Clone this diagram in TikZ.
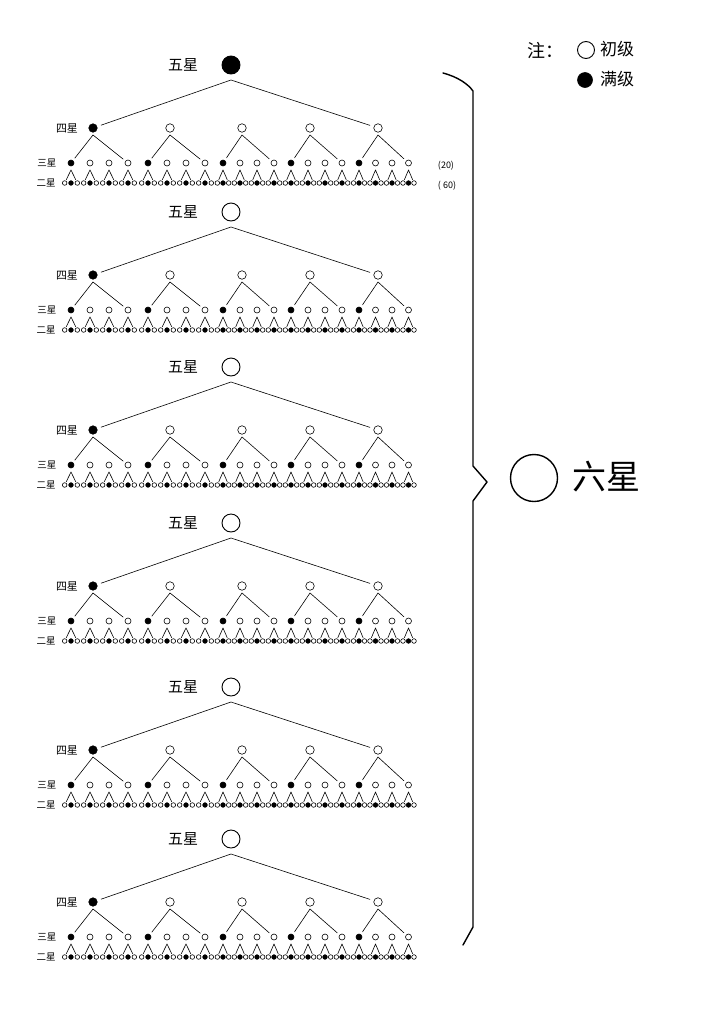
\documentclass[tikz,border=0pt]{standalone}
\usepackage{fontspec}
\newfontfamily\cjk{Noto Sans CJK SC}
\tikzset{
  star/.style={circle,draw,line width=0.6pt,inner sep=0pt},
  full/.style={fill=black},
  open/.style={fill=white},
  roof/.style={line width=0.6pt,line cap=round,line join=round},
  lvl/.style={font=\cjk\fontsize{#1}{#1}\selectfont,inner sep=0pt}
}
% one tree: #1 block id, #2 y of the five-star node, #3 its fill
\newcommand\starblock[3]{%
  \node[lvl=15] (wl#1) at (183,#2) {五星};
  \node[star,#3,minimum size=18pt,line width=0.9pt] (w#1) at (231,#2) {};
  \coordinate (wa#1) at (231,#2+15);
  \node[lvl=11] (sl#1) at (67,#2+63) {四星};
  \node[lvl=9.5] (tl#1) at (47,#2+98) {三星};
  \node[lvl=9.5] (el#1) at (46,#2+118) {二星};
  \foreach \g/\sx/\gx/\gd/\sf in {1/93/71/19/full,2/170/148/19/open,3/242/223/17/open,4/310/291/17/open,5/378/359/16.5/open}{
    \node[star,\sf,minimum size=8.5pt] (s#1-\g) at (\sx,#2+63) {};
    \coordinate (sa#1-\g) at (\sx,#2+70);
    \foreach \j/\tf in {0/full,1/open,2/open,3/open}{
      \node[star,\tf,minimum size=6pt] (t#1-\g-\j) at (\gx+\j*\gd,#2+98) {};
      \coordinate (ta#1-\g-\j) at (\gx+\j*\gd,#2+105);
      \foreach \k/\ef in {0/open,1/full,2/open}{
        \node[star,\ef,minimum size=4.6pt] (e#1-\g-\j-\k) at (\gx+\j*\gd+\k*\gd/3-\gd/3,#2+118) {};
      }
      \draw[roof,shorten <=1pt,shorten >=1pt] (e#1-\g-\j-0) -- (ta#1-\g-\j) -- (e#1-\g-\j-2);
    }
    \draw[roof,shorten <=3pt,shorten >=3pt] (t#1-\g-0) -- (sa#1-\g) -- (t#1-\g-3);
  }
  \draw[roof,shorten <=4pt,shorten >=4pt] (s#1-1) -- (wa#1) -- (s#1-5);
}
\begin{document}
\begin{tikzpicture}[x=1pt,y=-1pt]
  \useasboundingbox[fill=white] (0,0) rectangle (720,1018);
  % legend
  \node[lvl=18] (note) at (545,51) {注：};
  \node[star,open,minimum size=17pt,line width=0.9pt] (kopen) at (586,50) {};
  \node[lvl=17] (kopent) at (617,49) {初级};
  \node[star,full,minimum size=15pt] (kfull) at (585,80) {};
  \node[lvl=17] (kfullt) at (617,79) {满级};
  % six trees
  \starblock{1}{65}{full}
  \starblock{2}{212}{open}
  \starblock{3}{367}{open}
  \starblock{4}{523}{open}
  \starblock{5}{687}{open}
  \starblock{6}{839}{open}
  \node[lvl=9] (n20) at (446,166) {(20)};
  \node[lvl=9] (n60) at (447,186) {( 60)};
  % brace and six-star
  \draw[line width=1.4pt,line join=round,line cap=round] (443,73) .. controls (458,77) and (468,84) .. (473,91)
    -- (473,466) -- (487,482) -- (473,501) -- (473,927) -- (463,945);
  \node[star,open,minimum size=47pt,line width=1.4pt] (six) at (534,478) {};
  \node[lvl=34] (sixl) at (606,477) {六星};
\end{tikzpicture}
\end{document}
